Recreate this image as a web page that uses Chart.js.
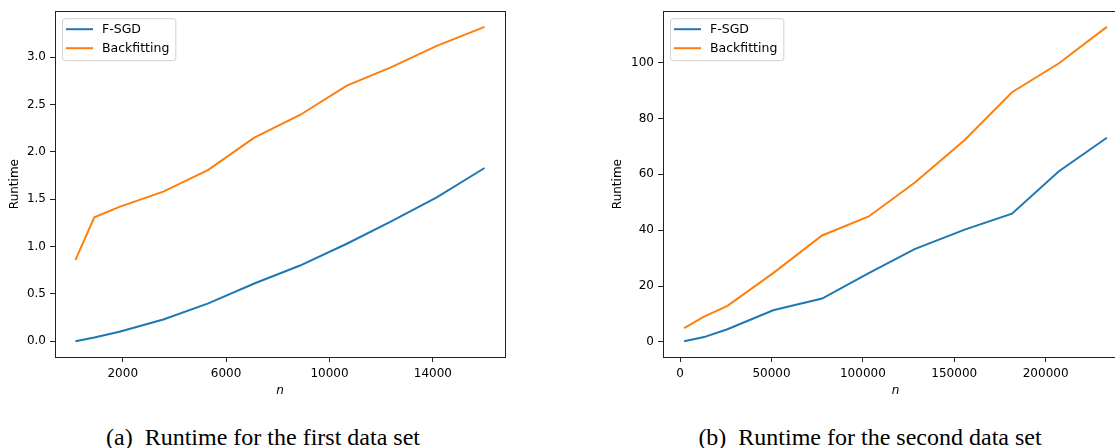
<!DOCTYPE html>
<html>
<head>
<meta charset="utf-8">
<script src="https://cdn.jsdelivr.net/npm/chart.js@4/dist/chart.umd.min.js"></script>
<style>
  html, body { margin: 0; padding: 0; background: #fff; }
  body { width: 1115px; height: 448px; overflow: hidden; position: relative; }
  canvas { position: absolute; top: 0; }
  #c1 { left: 0; }
  #c2 { left: 600px; }
  .cap {
    position: absolute; top: 422px; width: 560px; text-align: center;
    font-family: "Liberation Serif", "DejaVu Serif", serif; font-size: 24px;
    line-height: 30px; color: #000; white-space: pre;
  }
</style>
</head>
<body>
<canvas id="c1" width="520" height="400"></canvas>
<canvas id="c2" width="540" height="400"></canvas>
<div class="cap" style="left:-17px">(a)  Runtime for the first data set</div>
<div class="cap" style="left:590px">(b)  Runtime for the second data set</div>
<script>
  // first data set
  const n1 = [170, 900, 1870, 3570, 5310, 7090, 8860, 10670, 12350, 14150, 16000]
  const fsgd1 = [0.00, 0.04, 0.10, 0.23, 0.40, 0.61, 0.80, 1.03, 1.26, 1.52, 1.83]
  const back1 = [0.86, 1.31, 1.42, 1.58, 1.81, 2.15, 2.39, 2.70, 2.89, 3.12, 3.32]
  const xTicks1 = [2000, 6000, 10000, 14000]
  const yTicks1 = [0.0, 0.5, 1.0, 1.5, 2.0, 2.5, 3.0]

  // second data set
  const n2 = [2200, 13100, 25900, 50900, 77700, 103200, 128300, 155700, 181600, 207100, 233500]
  const fsgd2 = [0.2, 1.7, 4.5, 11.3, 15.5, 24.6, 33.2, 40.2, 45.9, 61.0, 73.1]
  const back2 = [4.9, 9.0, 12.9, 24.6, 38.1, 44.9, 57.0, 72.3, 89.4, 99.7, 112.8]
  const xTicks2 = [0, 50000, 100000, 150000, 200000]
  const yTicks2 = [0, 20, 40, 60, 80, 100]

  const seriesNames = ['F-SGD', 'Backfitting']
  const seriesColors = ['#1f77b4', '#ff7f0e']

  const tickFont = { family: 'DejaVu Sans', size: 12 }

  // matplotlib style frame + legend in upper left
  const framePlugin = {
    id: 'frame',
    afterDraw(chart) {
      const { ctx, chartArea: a } = chart
      ctx.save()
      ctx.strokeStyle = '#222'
      ctx.lineWidth = 1
      ctx.strokeRect(Math.round(a.left) + 0.5, Math.round(a.top) + 0.5,
        Math.round(a.right - a.left), Math.round(a.bottom - a.top))

      // legend
      ctx.font = '12.5px "DejaVu Sans"'
      const sets = chart.data.datasets
      const textW = Math.max(...sets.map(d => ctx.measureText(d.label).width))
      const bx = a.left + 7, by = a.top + 7
      const bw = 4 + 27 + 9 + textW + 6, bh = 42
      ctx.beginPath()
      ctx.roundRect(bx + 0.5, by + 0.5, bw, bh, 3)
      ctx.fillStyle = 'rgba(255,255,255,0.8)'
      ctx.fill()
      ctx.strokeStyle = '#d0d0d0'
      ctx.stroke()
      sets.forEach((d, i) => {
        const y = by + 11 + i * 19
        ctx.beginPath()
        ctx.moveTo(bx + 4, y)
        ctx.lineTo(bx + 31, y)
        ctx.strokeStyle = d.borderColor
        ctx.lineWidth = 2
        ctx.stroke()
        ctx.fillStyle = '#000'
        ctx.textBaseline = 'middle'
        ctx.fillText(d.label, bx + 40, y + 1)
      })
      ctx.restore()
    }
  }

  function pad(arr) {
    const lo = Math.min(...arr), hi = Math.max(...arr)
    const m = (hi - lo) * 0.05
    return [lo - m, hi + m]
  }

  function makeChart(id, xs, ys, xTicks, yTicks, yFmt, yAxisW, rightPad, yTitlePad) {
    const [xmin, xmax] = pad(xs)
    const [ymin, ymax] = pad(ys.flat())
    return new Chart(document.getElementById(id), {
      type: 'line',
      data: {
        datasets: ys.map((s, i) => ({
          label: seriesNames[i],
          data: s.map((v, j) => ({ x: xs[j], y: v })),
          borderColor: seriesColors[i],
          backgroundColor: seriesColors[i],
          borderWidth: 2,
          pointRadius: 0,
          tension: 0
        }))
      },
      options: {
        responsive: false,
        animation: false,
        layout: { padding: { top: 11, right: rightPad, left: 0, bottom: 0 } },
        plugins: { legend: { display: false }, tooltip: { enabled: false } },
        scales: {
          x: {
            type: 'linear',
            min: xmin,
            max: xmax,
            afterBuildTicks: s => { s.ticks = xTicks.map(v => ({ value: v })) },
            afterFit: s => { s.height = 43 },
            ticks: { font: tickFont, color: '#000', padding: 5, maxRotation: 0, autoSkip: false,
              callback: v => String(v) },
            grid: { drawOnChartArea: false, drawTicks: true, tickLength: 5, color: '#222' },
            border: { display: false },
            title: { display: true, text: 'n', color: '#000',
              font: { family: 'DejaVu Sans', size: 12, style: 'italic' }, padding: { bottom: 2 } }
          },
          y: {
            min: ymin,
            max: ymax,
            afterBuildTicks: s => { s.ticks = yTicks.map(v => ({ value: v })) },
            afterFit: s => { s.width = yAxisW },
            ticks: { font: tickFont, color: '#000', padding: 4, autoSkip: false, callback: yFmt },
            grid: { drawOnChartArea: false, drawTicks: true, tickLength: 5, color: '#222' },
            border: { display: false },
            title: { display: true, text: 'Runtime', color: '#000',
              font: { family: 'DejaVu Sans', size: 12 }, padding: { top: yTitlePad } }
          }
        }
      },
      plugins: [framePlugin]
    })
  }

  makeChart('c1', n1, [fsgd1, back1], xTicks1, yTicks1, v => v.toFixed(1), 55, 15, 8)
  makeChart('c2', n2, [fsgd2, back2], xTicks2, yTicks2, v => String(v), 63, 12, 11)
</script>
</body>
</html>
